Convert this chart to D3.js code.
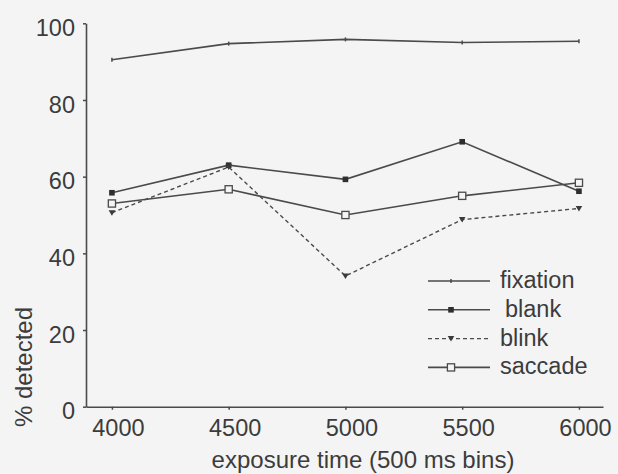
<!DOCTYPE html>
<html>
<head>
<meta charset="utf-8">
<script src="https://cdn.jsdelivr.net/npm/d3@7"></script>
<style>
  body { margin: 0; background: #f4f4f4; }
  svg { display: block; }
  text { font-family: "Liberation Sans", Arial, sans-serif; fill: #3c3c3c; }
</style>
</head>
<body>
<div id="chart"></div>
<script>
// Data
var exposure = [4000, 4500, 5000, 5500, 6000];
var fixation = [90.5, 94.7, 95.8, 95.0, 95.3];
var blank = [55.8, 63.0, 59.3, 69.1, 56.2];
var blink = [50.6, 62.5, 34.1, 48.8, 51.7];
var saccade = [53.0, 56.7, 50.0, 55.0, 58.4];
var yTicks = [0, 20, 40, 60, 80, 100];
var seriesNames = ["fixation", "blank", "blink", "saccade"];

var svgWidth = 618;
var svgHeight = 474;
var ink = "#4a4a4a";

var svg = d3.select("#chart")
    .append("svg")
    .attr("width", svgWidth)
    .attr("height", svgHeight);

svg.append("rect")
    .attr("width", svgWidth)
    .attr("height", svgHeight)
    .attr("fill", "#f4f4f4");

//Scales
var xScale = d3.scaleLinear()
    .domain([3889, 6103])
    .range([86, 603]);

var yScale = d3.scaleLinear()
    .domain([0, 100])
    .range([406.7, 23.3]);

//Axes
var bottomAxis = d3.axisBottom(xScale)
    .tickValues(exposure)
    .tickFormat(d3.format("d"))
    .tickSize(3)
    .tickSizeOuter(0)
    .tickPadding(10);

var leftAxis = d3.axisLeft(yScale)
    .tickValues(yTicks)
    .tickSize(3)
    .tickSizeOuter(0)
    .tickPadding(8);

var xAxisG = svg.append("g")
    .attr("transform", `translate(0, ${yScale(0)})`)
    .call(bottomAxis);

var yAxisG = svg.append("g")
    .attr("transform", `translate(${xScale(3889)}, 0)`)
    .call(leftAxis);

[xAxisG, yAxisG].forEach(function(g) {
    g.attr("font-family", null).attr("font-size", null);
    g.select(".domain").attr("stroke", ink).attr("stroke-width", 1.6);
    g.selectAll(".tick line").attr("stroke", ink).attr("stroke-width", 1.5);
    g.selectAll(".tick text").style("font-size", "23.5px").attr("fill", "#3c3c3c");
});
xAxisG.selectAll(".tick text").attr("dx", "6");
yAxisG.selectAll(".tick text").attr("dy", "0.52em");

//Series
var series = [
    {name: "fixation", values: fixation, dash: null},
    {name: "blank", values: blank, dash: null},
    {name: "blink", values: blink, dash: "4,3"},
    {name: "saccade", values: saccade, dash: null}
];

var line = d3.line()
    .x((d, i) => xScale(exposure[i]))
    .y(d => yScale(d));

function drawMarker(g, name, x, y) {
    if (name === "fixation") {
        g.append("line")
            .attr("x1", x).attr("x2", x)
            .attr("y1", y - 2).attr("y2", y + 2)
            .attr("stroke", ink).attr("stroke-width", 1.5);
    } else if (name === "blank") {
        g.append("rect")
            .attr("x", x - 2.8).attr("y", y - 2.8)
            .attr("width", 5.6).attr("height", 5.6)
            .attr("fill", "#2e2e2e");
    } else if (name === "blink") {
        g.append("path")
            .attr("d", `M${x - 3.3},${y - 2.5}L${x + 3.3},${y - 2.5}L${x},${y + 3}Z`)
            .attr("fill", "#3a3a3a");
    } else {
        g.append("rect")
            .attr("x", x - 3.6).attr("y", y - 3.6)
            .attr("width", 7.2).attr("height", 7.2)
            .attr("fill", "#f4f4f4")
            .attr("stroke", ink).attr("stroke-width", 1.3);
    }
}

var plotGroup = svg.append("g");

series.forEach(function(s) {
    plotGroup.append("path")
        .datum(s.values)
        .attr("d", line)
        .attr("fill", "none")
        .attr("stroke", ink)
        .attr("stroke-width", s.dash ? 1.4 : 1.6)
        .attr("stroke-dasharray", s.dash);
});

series.forEach(function(s) {
    s.values.forEach(function(v, i) {
        drawMarker(plotGroup, s.name, xScale(exposure[i]), yScale(v));
    });
});

//Legend
var legend = svg.append("g").attr("transform", "translate(428, 281)");
series.forEach(function(s, i) {
    var row = legend.append("g").attr("transform", `translate(0, ${i * 28.8})`);
    row.append("line")
        .attr("x1", 0).attr("x2", 62)
        .attr("y1", 0).attr("y2", 0)
        .attr("stroke", ink)
        .attr("stroke-width", s.dash ? 1.4 : 1.6)
        .attr("stroke-dasharray", s.dash);
    drawMarker(row, s.name, 23, 0);
    row.append("text")
        .attr("x", s.name === "blank" ? 77 : 72)
        .attr("y", 0)
        .attr("dy", "0.3em")
        .style("font-size", "23.5px")
        .text(seriesNames[i]);
});

//Axis labels
svg.append("text")
    .attr("x", 363)
    .attr("y", 468)
    .attr("text-anchor", "middle")
    .style("font-size", "24px")
    .text("exposure time (500 ms bins)");

svg.append("text")
    .attr("transform", "translate(32, 367) rotate(-90)")
    .attr("text-anchor", "middle")
    .style("font-size", "24px")
    .text("% detected");
</script>
</body>
</html>
